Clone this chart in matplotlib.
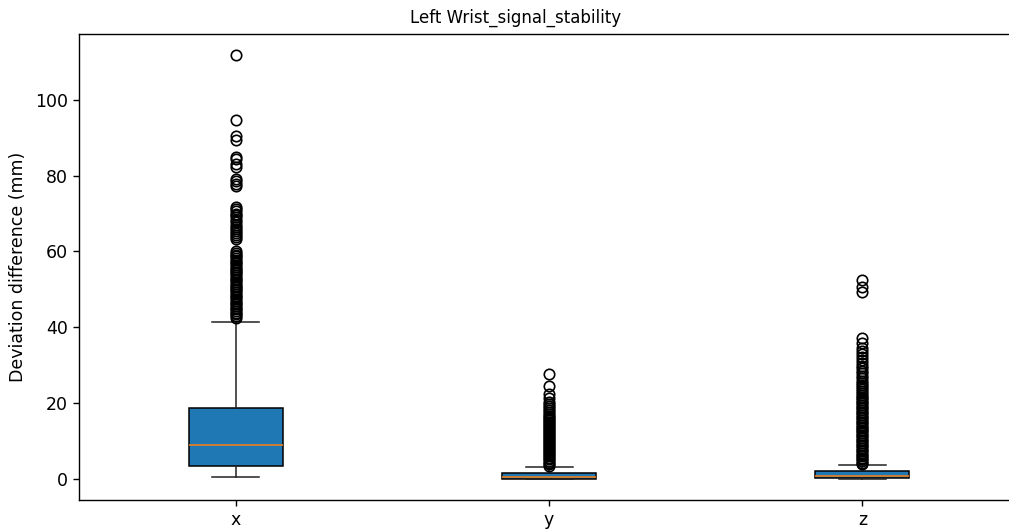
import matplotlib
matplotlib.use("Agg")
import matplotlib.pyplot as plt

# axis labels / categories
labels = ["x", "y", "z"]

# box statistics (mm)
q1 = [3.4, 0.05, 0.3]
med = [8.9, 0.55, 0.8]
q3 = [18.8, 1.5, 2.0]
whis_lo = [0.4, 0.0, 0.0]
whis_hi = [41.5, 3.2, 3.7]

# outliers, read point by point (dense parts estimated)
fliers_x = [111.8, 94.7, 90.5, 89.3, 85.0, 84.3, 83.0, 82.2, 79.2, 78.6, 77.8, 77.3,
            71.8, 71.2, 70.6, 70.0, 69.5, 69.0, 68.3, 67.7, 67.0, 66.4, 65.9, 65.4,
            64.9, 64.4, 63.8, 63.3,
            60.0, 59.6, 59.1, 58.7, 58.2, 57.8, 57.3, 56.9, 56.4, 56.0, 55.5, 55.1,
            54.6, 54.2, 53.7, 53.3, 52.8, 52.4, 51.9, 51.5, 51.0, 50.6, 50.1, 49.7,
            49.2, 48.8, 48.3, 47.9, 47.4, 47.0, 46.5, 46.1, 45.6, 45.2, 44.7, 44.3,
            43.8, 43.4, 42.9, 42.5]
fliers_y = [27.6, 24.6, 22.4, 21.2, 20.4, 19.8, 19.2, 18.6, 18.1, 17.6, 17.1,
            16.7, 16.3, 15.9, 15.5, 15.1, 14.7, 14.3, 13.9, 13.5, 13.1, 12.7, 12.3,
            11.9, 11.5, 11.1, 10.7, 10.3, 9.9, 9.5, 9.1, 8.7, 8.3, 7.9, 7.5, 7.1,
            6.7, 6.3, 5.9, 5.5, 5.1, 4.7, 4.3, 3.9, 3.5]
fliers_z = [52.6, 50.6, 49.3, 37.2, 35.8, 34.6, 33.8, 33.0, 32.2, 31.4, 30.6, 29.9,
            29.2, 28.5, 27.8, 27.1, 26.5, 25.9, 25.3, 24.7, 24.1, 23.6, 23.1, 22.6,
            22.1, 21.7, 21.2, 20.8, 20.3, 19.9, 19.4, 19.0, 18.6, 18.1, 17.7, 17.3,
            16.8, 16.4, 16.0, 15.5, 15.1, 14.7, 14.2, 13.8, 13.4, 12.9, 12.5, 12.1,
            11.6, 11.2, 10.8, 10.3, 9.9, 9.5, 9.0, 8.6, 8.2, 7.7, 7.3, 6.9, 6.4,
            6.0, 5.6, 5.1, 4.7, 4.3, 3.9]
fliers = [fliers_x, fliers_y, fliers_z]

stats = []
for i in range(len(labels)):
    stats.append({"label": labels[i], "q1": q1[i], "med": med[i], "q3": q3[i],
                  "whislo": whis_lo[i], "whishi": whis_hi[i], "fliers": fliers[i]})

lw = 1.1
fig = plt.figure(figsize=(10.09, 5.32), dpi=100)
# axes runs a bit past the right edge (reference is cropped there)
ax = fig.add_axes([79 / 1009, 32 / 532, 940 / 1009, 466 / 532])
ax.bxp(stats, patch_artist=True, widths=0.3,
       boxprops=dict(linewidth=lw),
       whiskerprops=dict(linewidth=lw, color="#222222"),
       capprops=dict(linewidth=lw, color="#222222"),
       medianprops=dict(color="C1", linewidth=lw),
       flierprops=dict(marker="o", markersize=7.5, markeredgewidth=1.2,
                       markerfacecolor="none", markeredgecolor="black"))
ax.set_xlim(0.5, 3.5)
for s in ax.spines.values():
    s.set_linewidth(1.0)
ax.tick_params(labelsize=12.5, width=1.0, length=4.4)
ax.set_title("Left Wrist_signal_stability", fontsize=12, x=(516 - 79) / 940, pad=8)
ax.set_ylabel("Deviation difference (mm)", fontsize=12.5, labelpad=6)

plt.savefig("out.png", dpi=100)
